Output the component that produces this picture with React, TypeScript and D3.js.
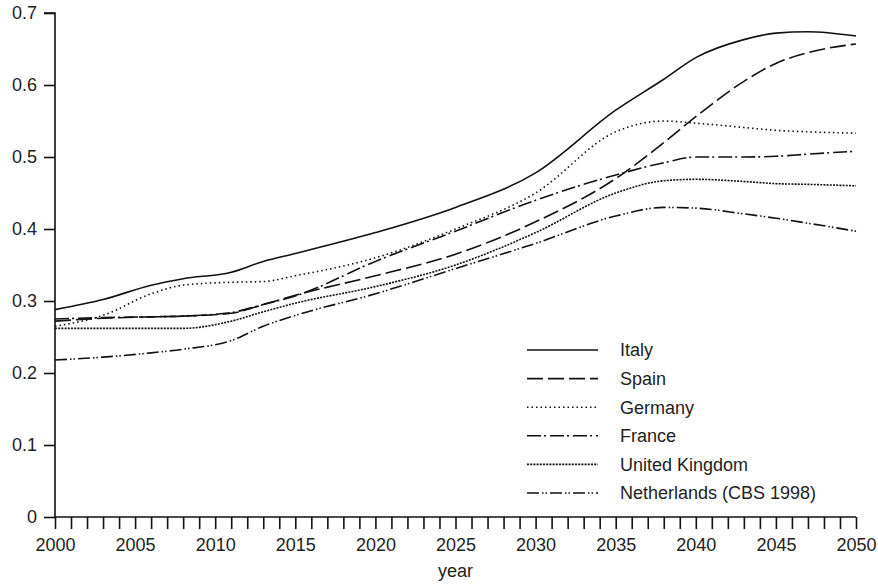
import * as d3 from "d3";
import React, { useEffect, useRef } from "react";

const YEARS = [2000, 2003, 2006, 2008, 2011, 2013, 2015, 2020, 2025, 2030, 2035, 2038, 2040, 2043, 2045, 2047, 2050];

const ITALY = [0.288, 0.302, 0.322, 0.331, 0.34, 0.355, 0.366, 0.395, 0.43, 0.478, 0.565, 0.608, 0.638, 0.663, 0.672, 0.674, 0.668];
const SPAIN = [0.272, 0.276, 0.278, 0.279, 0.283, 0.295, 0.308, 0.335, 0.365, 0.41, 0.47, 0.52, 0.556, 0.605, 0.63, 0.645, 0.657];
const GERMANY = [0.265, 0.28, 0.31, 0.322, 0.326, 0.327, 0.335, 0.36, 0.4, 0.45, 0.535, 0.55, 0.547, 0.541, 0.537, 0.535, 0.533];
const FRANCE = [0.275, 0.277, 0.278, 0.279, 0.284, 0.295, 0.307, 0.355, 0.397, 0.44, 0.475, 0.492, 0.5, 0.5, 0.501, 0.504, 0.508];
const UK = [0.262, 0.262, 0.262, 0.262, 0.272, 0.285, 0.297, 0.32, 0.35, 0.395, 0.45, 0.467, 0.469, 0.466, 0.463, 0.462, 0.46];
const NETHERLANDS = [0.218, 0.222, 0.228, 0.233, 0.245, 0.265, 0.28, 0.31, 0.345, 0.38, 0.418, 0.43, 0.429, 0.421, 0.415, 0.408, 0.397];

const SERIES = [
  { name: "Italy", values: ITALY, dash: "" },
  { name: "Spain", values: SPAIN, dash: "16,5" },
  { name: "Germany", values: GERMANY, dash: "1.5,3" },
  { name: "France", values: FRANCE, dash: "14,3,2,4" },
  { name: "United Kingdom", values: UK, dash: "2,1.2" },
  { name: "Netherlands (CBS 1998)", values: NETHERLANDS, dash: "12,3,1.5,2,1.5,3" },
];

const Y_TICKS = [0, 0.1, 0.2, 0.3, 0.4, 0.5, 0.6, 0.7];
const X_LABELS = [2000, 2005, 2010, 2015, 2020, 2025, 2030, 2035, 2040, 2045, 2050];

export default function App() {
  const svgRef = useRef<SVGSVGElement | null>(null);

  useEffect(() => {
    const svg = d3.select(svgRef.current);
    svg.selectAll("*").remove();
    const font = "'Liberation Sans', Arial, sans-serif";

    const x = d3.scaleLinear().domain([2000, 2050]).range([55, 856]);
    const y = d3.scaleLinear().domain([0, 0.7]).range([517, 13]);

    // y axis
    const ya = svg.append("g").attr("transform", "translate(55,0)")
      .call(d3.axisLeft(y).tickValues(Y_TICKS).tickSize(11).tickPadding(7)
        .tickFormat(d => (d === 0 ? "0" : d3.format(".1f")(d as number))));
    ya.select(".domain").attr("d", `M-11,${y(0.7)}H0V${y(0)}`);

    // x axis: a tick every year, labels every 5
    const xa = svg.append("g").attr("transform", `translate(0,${y(0)})`)
      .call(d3.axisBottom(x).tickValues(d3.range(2000, 2051)).tickSize(12).tickPadding(9)
        .tickFormat(d => (X_LABELS.includes(d as number) ? String(d) : "")));
    xa.select(".domain").attr("d", `M${x(2000)},0H${x(2050)}`);

    svg.selectAll(".tick text").attr("font-family", font).attr("font-size", 18).attr("fill", "#222");
    svg.selectAll(".domain, .tick line").attr("stroke", "#111").attr("stroke-width", 1.6);

    svg.append("text")
      .attr("x", (x(2000) + x(2050)) / 2)
      .attr("y", 577)
      .attr("text-anchor", "middle")
      .attr("font-family", font)
      .attr("font-size", 18)
      .attr("fill", "#222")
      .text("year");

    const line = d3.line<number>()
      .x((_, i) => x(YEARS[i]))
      .y(d => y(d))
      .curve(d3.curveMonotoneX);

    // series, drawn bottom to top
    svg.append("g").selectAll("path")
      .data(SERIES.slice().reverse())
      .join("path")
      .attr("d", d => line(d.values))
      .attr("fill", "none")
      .attr("stroke", "#111")
      .attr("stroke-width", 1.6)
      .attr("stroke-dasharray", d => d.dash || null);

    // legend
    const lg = svg.append("g").selectAll("g")
      .data(SERIES)
      .join("g")
      .attr("transform", (_, i) => `translate(527,${350 + i * 28.6})`);
    lg.append("line")
      .attr("x1", 0).attr("x2", 71)
      .attr("stroke", "#111")
      .attr("stroke-width", 1.6)
      .attr("stroke-dasharray", d => d.dash || null);
    lg.append("text")
      .attr("x", 93)
      .attr("dy", "0.35em")
      .attr("font-family", font)
      .attr("font-size", 18)
      .attr("fill", "#222")
      .text(d => d.name);
  }, []);

  return (
    <div>
      <style>{"body{margin:0}"}</style>
      <svg ref={svgRef} width={878} height={586} style={{ display: "block", background: "#fff" }} />
    </div>
  );
}
